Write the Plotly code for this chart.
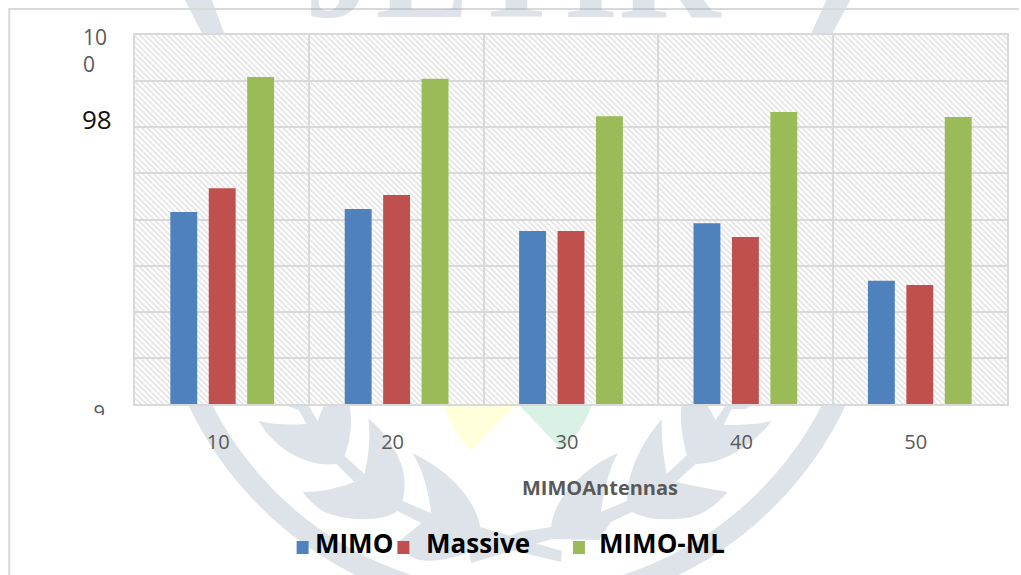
import base64
import plotly.graph_objects as go

W, H = 1021, 575
L, R, T, B = 135, 1009, 35, 404

antennas = ["10", "20", "30", "40", "50"]
mimo = [96.16, 96.23, 95.75, 95.92, 94.67]
massive = [96.68, 96.53, 95.75, 95.62, 94.58]
mimo_ml = [99.09, 99.05, 98.24, 98.33, 98.22]

series_names = ["MIMO", "Massive", "MIMO-ML"]
series_colors = ["#4f81bd", "#c0504d", "#9bbb59"]
grid_ticks = [92, 93, 94, 95, 96, 97, 98, 99, 100]
grid_labels = ["9", "", "", "", "", "", "", "", ""]

GREY = "#595959"
LINE = "#d9d9d9"
BODY_FONT = "Open Sans"


def px(x):
    return (x - L) / (R - L)


def py(y):
    return (B - y) / (B - T)


def data_uri(svg):
    return "data:image/svg+xml;base64," + base64.b64encode(svg.encode()).decode()


# Laurel wreath emblem printed faintly behind the page
emblem = f"""<svg xmlns="http://www.w3.org/2000/svg" width="{W}" height="{H}" viewBox="0 0 {W} {H}">
<g fill="#dde3e8">
<path d="M188 404 A363 363 0 0 0 356 575 L412 575 A342 342 0 0 1 212 404Z"/>
<path d="M848 404 A363 363 0 0 1 680 575 L624 575 A342 342 0 0 0 824 404Z"/>
<path d="M185 0 L212 0 L225 35 L203 35Z"/>
<path d="M828 0 L852 0 L833 35 L812 35Z"/>
<path d="M259 421 Q280 426 307 424 L299 410 L282 404 L308 404 L318 421 L325 404 L350 404
 Q355 430 345 456 L365 474 L355 482 L337 464 C315 467 280 456 259 421Z"/>
<path d="M369 419 C385 430 405 460 405 480 Q406 492 403 501 L432 513 L422 523 L398 511
 C385 522 345 522 323 511 Q312 504 303 492 Q330 492 355 482 L365 474 Q372 445 369 419Z"/>
<path d="M413 453 C445 468 475 495 481 527 L563 551 L562 562 L500 547 L470 552 C445 562 425 562 417 559
 Q405 555 400 541 L422 523 L432 513 Q427 475 413 453Z"/>
<path d="M470 552 L520 532 L552 527 C555 495 590 465 619 453 Q607 475 602 512 L628 501
 C628 470 645 440 663 419 Q662 445 668 474 L688 455 L697 464 L677 482 Q705 488 729 492
 Q705 520 677 519 Q650 521 633 512 L612 522 L600 540 L553 539 L472 563Z"/>
<path d="M683 404 L708 404 L717 420 L728 404 L755 404 L747 409 L733 409 L725 425 Q755 425 773 421
 C755 445 725 464 697 464 L688 455 Q680 425 683 404Z"/>
</g>
<path d="M444 404 Q452 430 471 451 L518 404Z" fill="#ffffdc"/>
<path d="M519 404 L563 450 Q585 430 593 404Z" fill="#d9f2e5"/>
</svg>"""

# Opaque panel with fine diagonal hatching behind the bars
hatch = f"""<svg xmlns="http://www.w3.org/2000/svg" width="{R - L}" height="{B - T}">
<defs><pattern id="h" width="4" height="4" patternUnits="userSpaceOnUse" patternTransform="rotate(45)">
<rect width="4" height="4" fill="#ffffff"/><rect width="4" height="1.6" fill="#e2e2e2"/>
</pattern></defs>
<rect width="100%" height="100%" fill="url(#h)"/>
</svg>"""

fig = go.Figure()
for name, values, color in zip(series_names, [mimo, massive, mimo_ml], series_colors):
    fig.add_trace(go.Bar(x=antennas, y=values, name=name, marker=dict(color=color, line_width=0)))

shapes = [
    dict(type="line", xref="paper", yref="paper", layer="below",
         x0=px(8), x1=px(W), y0=py(9), y1=py(9), line=dict(color=LINE, width=2)),
    dict(type="line", xref="paper", yref="paper", layer="below",
         x0=px(9), x1=px(9), y0=py(9), y1=py(H), line=dict(color=LINE, width=2)),
    # the lowest axis label is cut off along this edge
    dict(type="rect", xref="paper", yref="paper", layer="above",
         x0=px(86), x1=px(114), y0=py(415), y1=py(428),
         fillcolor="white", line_width=0),
]
annotations = [
    dict(text="JETIR", xref="paper", yref="paper", x=px(514), y=py(19), xanchor="center",
         yanchor="bottom", yshift=-30, showarrow=False,
         font=dict(family="Liberation Serif", size=141, color="rgba(142,162,178,0.3)", weight="bold")),
    dict(text="10<br>0", xref="paper", yref="paper", x=px(81), y=py(50), xanchor="left",
         yanchor="middle", align="left", showarrow=False,
         font=dict(family=BODY_FONT, size=21, color=GREY)),
    dict(text="98", xref="paper", yref="y", x=px(97), y=98, xanchor="center", yanchor="middle",
         yshift=8, showarrow=False, font=dict(family=BODY_FONT, size=26, color="#111111")),
    dict(text="MIMOAntennas", xref="paper", yref="paper", x=px(601.5), y=py(488),
         xanchor="center", yanchor="middle", showarrow=False,
         font=dict(family=BODY_FONT, size=20, color=GREY, weight="bold")),
]

# Hand-placed key below the axis title
swatch_left = [297, 398, 574]
label_left = [315, 427, 600]
for name, color, sx, lx in zip(series_names, series_colors, swatch_left, label_left):
    shapes.append(dict(type="rect", xref="paper", yref="paper", layer="above",
                       x0=px(sx), x1=px(sx + 12), y0=py(541), y1=py(554),
                       fillcolor=color, line_width=0))
    annotations.append(dict(text=name, xref="paper", yref="paper", x=px(lx), y=py(543),
                            xanchor="left", yanchor="middle", showarrow=False, xshift=-2,
                            font=dict(family=BODY_FONT, size=26, color="#000000", weight="bold")))

fig.update_layout(
    width=W, height=H, autosize=False,
    margin=dict(l=L, r=W - R, t=T, b=H - B),
    paper_bgcolor="white", plot_bgcolor="white",
    barmode="group", bargap=0.339, bargroupgap=0.30,
    showlegend=False,
    images=[
        dict(source=data_uri(emblem), xref="paper", yref="paper", x=px(0), y=py(0),
             sizex=W / (R - L), sizey=H / (B - T), xanchor="left", yanchor="top",
             sizing="stretch", layer="below"),
        dict(source=data_uri(hatch), xref="paper", yref="paper", x=0, y=1,
             sizex=1, sizey=1, xanchor="left", yanchor="top",
             sizing="stretch", layer="below"),
    ],
    shapes=shapes,
    annotations=annotations,
    xaxis=dict(type="category", tickson="boundaries", showgrid=True, gridcolor=LINE, gridwidth=1.5,
               showline=True, linecolor=LINE, linewidth=2, mirror=True, ticks="",
               ticklabelshift=-4, ticklabelstandoff=19,
               tickfont=dict(family=BODY_FONT, size=20, color=GREY)),
    yaxis=dict(range=[92, 100], tickmode="array", tickvals=grid_ticks, ticktext=grid_labels,
               showgrid=True, gridcolor=LINE, gridwidth=1.5,
               showline=True, linecolor=LINE, linewidth=2, mirror=True, ticks="", zeroline=False,
               ticklabelshift=8, ticklabelstandoff=24,
               tickfont=dict(family=BODY_FONT, size=20, color=GREY)),
)

fig.write_html("out.html")
